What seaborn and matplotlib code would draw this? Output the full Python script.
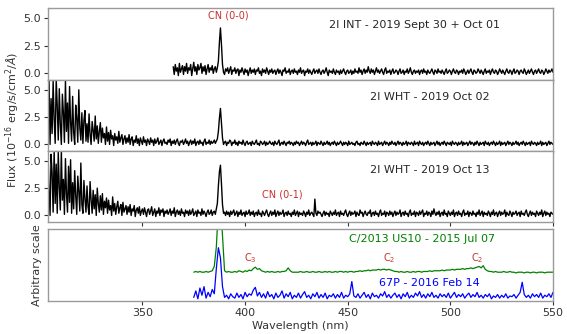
import numpy as np
import pandas as pd
import matplotlib
matplotlib.use("Agg")
import matplotlib.pyplot as plt
import seaborn as sns

# ---- 2I spectra, 0.5 nm bins (flux in 1e-16 erg/s/cm2/A) ----
int_start, int_step = 365.0, 0.5
int_flux = [
    0.6, -0.1, 0.8, 0.2, 0.5, -0.2, 0.9, 0.1, 0.4, 0.7, -0.1, 0.6, 0.2, 0.9, 0.0, 0.5, 0.3, 0.8, -0.2, 0.4,
    1.0, 0.2, 0.6, -0.1, 0.8, 0.3, 0.5, 0.9, 0.0, 0.6, 0.2, 0.7, -0.1, 0.4, 0.8, 0.1, 0.5, 0.3, 0.7, 0.0,
    0.4, 0.6, 0.1, 0.5, 1.1, 2.8, 4.1, 2.6, 0.8, 0.1, -0.1, 0.4, 0.2, 0.5, 0.0, 0.3, 0.6, -0.1, 0.3, 0.2,
    0.5, 0.0, 0.3, 0.4, -0.2, 0.3, 0.1, 0.5, 0.2, -0.1, 0.4, 0.1, 0.3, -0.2, 0.2, 0.5, 0.0, 0.3, 0.1, 0.4,
    -0.1, 0.3, 0.2, 0.5, 0.0, 0.2, -0.2, 0.4, 0.1, 0.3, 0.0, 0.5, 0.2, -0.1, 0.3, 0.1, 0.4, 0.0, 0.2, 0.3,
    -0.1, 0.2, 0.4, 0.0, 0.3, 0.1, -0.2, 0.3, 0.2, 0.5, 0.0, 0.2, 0.1, 0.4, -0.1, 0.2, 0.3, 0.0, 0.4, 0.1,
    0.2, -0.1, 0.3, 0.1, 0.5, 0.0, 0.2, 0.3, -0.2, 0.2, 0.1, 0.4, 0.0, 0.3, 0.1, -0.1, 0.2, 0.4, 0.0, 0.2,
    0.3, 0.0, 0.4, 0.1, -0.1, 0.2, 0.3, 0.0, 0.2, 0.5, 0.1, -0.2, 0.3, 0.1, 0.2, 0.0, 0.4, 0.1, -0.1, 0.3,
    0.1, 0.2, -0.1, 0.3, 0.0, 0.2, 0.4, 0.1, -0.1, 0.2, 0.3, 0.0, 0.1, 0.3, -0.1, 0.2, 0.0, 0.4, 0.1, 0.2,
    0.0, 0.5, 0.1, 0.3, -0.1, 0.2, 0.4, 0.0, 0.3, 0.1, 0.6, 0.2, 0.0, 0.4, 0.1, 0.3, -0.1, 0.2, 0.5, 0.1,
    0.3, 0.0, 0.2, 0.4, 0.1, -0.1, 0.3, 0.5, 0.0, 0.2, 0.1, 0.3, -0.1, 0.2, 0.4, 0.0, 0.1, 0.3, 0.2, -0.1,
    0.2, 0.4, 0.0, 0.1, 0.3, -0.1, 0.2, 0.1, 0.4, 0.0, 0.2, 0.5, 0.1, -0.1, 0.2, 0.3, 0.0, 0.2, 0.1, 0.3,
    -0.1, 0.2, 0.3, 0.0, 0.4, 0.1, 0.2, -0.1, 0.3, 0.1, 0.0, 0.2, 0.4, 0.1, -0.1, 0.3, 0.2, 0.0, 0.4, 0.1,
    0.2, 0.0, 0.3, 0.1, -0.1, 0.2, 0.4, 0.0, 0.1, 0.3, 0.2, -0.1, 0.2, 0.4, 0.1, 0.0, 0.3, 0.2, -0.1, 0.2,
    0.1, 0.3, 0.0, 0.4, 0.2, -0.1, 0.1, 0.3, 0.0, 0.2, 0.4, 0.1, -0.1, 0.3, 0.2, 0.0, 0.1, 0.4, 0.2, 0.0,
    0.3, 0.1, -0.1, 0.2, 0.4, 0.0, 0.2, 0.1, 0.3, -0.1, 0.2, 0.4, 0.1, 0.0, 0.3, 0.2, -0.1, 0.1, 0.4, 0.2,
    0.0, 0.3, 0.1, -0.1, 0.2, 0.4, 0.1, 0.0, 0.3, 0.2, -0.1, 0.2, 0.4, 0.0, 0.1, 0.3, 0.2, -0.1, 0.2, 0.3,
    0.1, 0.0, 0.4, 0.2, -0.1, 0.1, 0.3, 0.0, 0.2, 0.4, 0.1, -0.1, 0.2, 0.3, 0.0, 0.2, 0.4, 0.1, 0.0, 0.3,
    0.2, -0.1, 0.1, 0.4, 0.2, 0.0, 0.3, 0.1, 0.2, 0.4, 0.1,
]

wht02_start, wht02_step = 303.0, 0.5
wht02_flux = [
    5.9, 0.3, 3.1, 6.0, 0.0, 4.2, 1.0, 5.8, 2.3, 0.1, 6.0, 3.5, 0.4, 5.1, 1.8, 0.0, 4.6, 2.9, 0.2, 5.9,
    1.2, 3.8, 0.1, 5.3, 2.0, 0.3, 4.4, 1.1, 0.0, 3.6, 2.4, 0.2, 5.0, 1.5, 0.4, 2.9, 0.1, 2.2, 3.1, 0.3,
    1.9, 0.2, 2.8, 0.9, 0.0, 2.1, 1.3, 0.3, 2.6, 0.5, 1.7, 0.1, 1.2, 2.0, 0.2, 1.5, 0.6, 1.0, 0.0, 1.6,
    0.3, 1.1, 0.0, 1.3, 0.5, 0.8, -0.1, 1.0, 0.4, 0.7, 0.1, 1.2, 0.2, 0.6, 0.9, 0.0, 0.5, 0.8, 0.1, 0.6,
    0.2, 0.9, 0.0, 0.5, 0.7, -0.1, 0.4, 0.2, 0.8, 0.1, 0.5, -0.1, 0.6, 0.3, 0.0, 0.7, 0.2, 0.4, -0.1, 0.5,
    0.3, 0.0, 0.6, 0.2, 0.4, -0.1, 0.5, 0.1, 0.3, 0.6, 0.0, 0.2, 0.4, -0.1, 0.3, 0.5, 0.1, 0.2, 0.0, 0.4,
    0.2, 0.5, -0.1, 0.3, 0.1, 0.4, 0.0, 0.3, 0.5, 0.1, -0.1, 0.3, 0.2, 0.4, 0.0, 0.2, 0.5, 0.1, 0.3, -0.1,
    0.2, 0.4, 0.0, 0.3, 0.1, 0.5, -0.1, 0.2, 0.3, 0.0, 0.4, 0.1, 0.2, -0.1, 0.3, 0.5, 0.0, 0.2, 0.1, 0.4,
    0.0, 0.3, 0.1, 0.2, 0.4, 0.1, 0.3, 0.5, 1.2, 2.4, 3.3, 2.0, 0.6, 0.0, 0.2, 0.3, -0.1, 0.2, 0.1, 0.4,
    0.3, -0.1, 0.2, 0.1, 0.4, 0.0, 0.2, -0.1, 0.3, 0.1, 0.2, 0.0, 0.4, 0.1, -0.1, 0.2, 0.3, 0.0, 0.1, 0.2,
    -0.1, 0.3, 0.1, 0.0, 0.2, 0.4, 0.0, 0.1, -0.1, 0.3, 0.2, 0.0, 0.1, 0.3, -0.1, 0.2, 0.0, 0.1, 0.3, 0.1,
    0.0, 0.2, -0.1, 0.3, 0.1, 0.0, 0.2, 0.4, -0.1, 0.1, 0.2, 0.0, 0.3, 0.1, -0.1, 0.2, 0.1, 0.3, 0.0, 0.2,
    0.1, -0.1, 0.2, 0.0, 0.3, 0.1, 0.2, -0.1, 0.1, 0.3, 0.0, 0.2, 0.1, -0.1, 0.2, 0.4, 0.0, 0.1, 0.2, -0.1,
    0.2, 0.0, 0.1, 0.3, -0.1, 0.2, 0.1, 0.0, 0.3, 0.1, -0.1, 0.2, 0.0, 0.1, 0.3, 0.0, 0.2, -0.1, 0.1, 0.2,
    0.0, 0.3, 0.1, -0.1, 0.2, 0.0, 0.1, 0.3, 0.1, -0.1, 0.2, 0.0, 0.2, 0.1, -0.1, 0.3, 0.0, 0.1, 0.2, 0.0,
    0.1, -0.1, 0.2, 0.3, 0.0, 0.1, -0.1, 0.2, 0.1, 0.0, 0.3, 0.1, -0.1, 0.2, 0.0, 0.1, 0.2, -0.1, 0.3, 0.1,
    0.0, 0.2, 0.1, -0.1, 0.3, 0.0, 0.1, 0.2, -0.1, 0.1, 0.3, 0.0, 0.2, 0.1, -0.1, 0.2, 0.0, 0.3, 0.1, 0.0,
    0.2, -0.1, 0.1, 0.3, 0.0, 0.2, 0.1, -0.1, 0.2, 0.0, 0.1, 0.3, -0.1, 0.2, 0.1, 0.0, 0.2, 0.1, -0.1, 0.3,
    0.0, 0.1, 0.2, -0.1, 0.3, 0.1, 0.0, 0.2, -0.1, 0.1, 0.2, 0.0, 0.3, 0.1, -0.1, 0.2, 0.0, 0.1, 0.2, -0.1,
    0.1, 0.3, 0.0, 0.2, -0.1, 0.1, 0.2, 0.0, 0.3, 0.1, -0.1, 0.2, 0.1, 0.0, 0.2, -0.1, 0.3, 0.1, 0.0, 0.2,
    0.1, -0.1, 0.2, 0.0, 0.1, 0.3, -0.1, 0.2, 0.0, 0.1, 0.2, -0.1, 0.1, 0.3, 0.0, 0.2, 0.1, -0.1, 0.2, 0.0,
    0.3, 0.1, -0.1, 0.2, 0.0, 0.1, 0.2, -0.1, 0.3, 0.1, 0.0, 0.2, -0.1, 0.1, 0.2, 0.0, 0.3, 0.1, -0.1, 0.2,
    0.0, 0.1, 0.3, -0.1, 0.2, 0.0, 0.1, 0.2, -0.1, 0.1, 0.3, 0.0, 0.2, 0.1, -0.1, 0.2, 0.0, 0.1, 0.3, 0.0,
    0.2, -0.1, 0.1, 0.2, 0.0, 0.3, 0.1, -0.1, 0.2, 0.0, 0.1, 0.2, -0.1, 0.3, 0.1, 0.0, 0.2, 0.1, -0.1, 0.2,
    0.0, 0.1, 0.3, -0.1, 0.2, 0.0, 0.1, 0.2, -0.1, 0.1, 0.3, 0.0, 0.2, 0.1, 0.0,
]

wht13_start, wht13_step = 303.0, 0.5
wht13_flux = [
    6.0, 0.4, 5.9, 2.2, 0.0, 5.6, 3.9, 0.3, 6.0, 1.1, 4.7, 0.2, 5.8, 2.6, 0.5, 6.0, 1.4, 3.3, 0.1, 5.2,
    2.0, 0.3, 4.5, 1.2, 5.1, 0.2, 3.0, 0.6, 4.1, 1.8, 0.1, 3.6, 2.2, 0.4, 4.8, 1.0, 0.2, 3.2, 1.5, 0.3,
    2.7, 0.8, 0.1, 3.1, 1.4, 0.2, 2.3, 0.6, 1.9, 0.0, 2.5, 1.1, 0.3, 1.8, 0.5, 2.0, 0.1, 1.3, 0.7, 1.6,
    0.2, 1.4, 0.5, 0.9, 0.0, 1.7, 0.4, 1.1, 0.1, 0.8, 1.3, 0.2, 0.7, 1.0, 0.0, 1.2, 0.3, 0.6, 0.9, 0.1,
    0.8, 0.3, 1.0, 0.0, 0.6, 0.4, 0.9, -0.1, 0.5, 0.7, 0.2, 0.8, 0.0, 0.4, 0.6, 0.1, 0.7, 0.3, -0.1, 0.5,
    0.6, 0.1, 0.4, 0.8, 0.0, 0.3, 0.6, -0.1, 0.4, 0.2, 0.7, 0.0, 0.5, 0.3, 0.6, -0.1, 0.4, 0.2, 0.5, 0.1,
    0.3, 0.6, 0.0, 0.4, 0.2, 0.7, -0.1, 0.3, 0.5, 0.1, 0.4, 0.0, 0.6, 0.2, 0.3, -0.1, 0.5, 0.2, 0.4, 0.0,
    0.5, 0.1, 0.3, 0.6, 0.0, 0.2, 0.4, -0.1, 0.5, 0.2, 0.3, 0.0, 0.6, 0.1, 0.4, 0.2, -0.1, 0.3, 0.5, 0.1,
    0.2, 0.5, 0.0, 0.3, 0.4, 0.1, 0.6, 1.1, 2.7, 4.0, 4.6, 2.9, 1.0, 0.2, 0.3, 0.0, 0.4, 0.1, 0.3, -0.1,
    0.4, 0.1, 0.3, 0.5, 0.0, 0.2, 0.4, -0.1, 0.3, 0.1, 0.5, 0.0, 0.2, 0.3, -0.1, 0.4, 0.1, 0.2, 0.5, 0.0,
    0.3, 0.1, 0.4, -0.1, 0.2, 0.3, 0.0, 0.5, 0.1, 0.2, -0.1, 0.4, 0.2, 0.0, 0.3, 0.5, 0.1, -0.1, 0.2, 0.4,
    0.0, 0.3, 0.1, 0.5, -0.1, 0.2, 0.4, 0.0, 0.3, 0.1, 0.2, 0.5, -0.1, 0.2, 0.3, 0.0, 0.4, 0.1, 0.2, -0.1,
    0.3, 0.1, 0.5, 0.0, 0.2, 0.4, -0.1, 0.3, 0.1, 0.2, 0.0, 0.4, 0.2, -0.1, 0.3, 0.1, 0.5, 0.0, 0.2, 0.3,
    0.1, -0.1, 1.5, 0.2, 0.0, 0.4, 0.2, 0.3, 0.1, -0.1, 0.2, 0.4, 0.0, 0.3, 0.1, 0.2, -0.1, 0.4, 0.2, 0.0,
    0.3, 0.1, 0.5, 0.0, 0.2, 0.3, -0.1, 0.4, 0.1, 0.2, 0.0, 0.3, 0.5, 0.1, -0.1, 0.2, 0.4, 0.0, 0.3, 0.1,
    0.2, 0.4, -0.1, 0.3, 0.1, 0.0, 0.5, 0.2, 0.3, -0.1, 0.2, 0.4, 0.1, 0.0, 0.3, 0.2, 0.5, -0.1, 0.2, 0.3,
    0.0, 0.4, 0.1, 0.2, -0.1, 0.3, 0.5, 0.0, 0.2, 0.1, 0.4, -0.1, 0.3, 0.2, 0.0, 0.4, 0.1, 0.3, -0.1, 0.2,
    0.4, 0.0, 0.3, 0.1, 0.2, 0.5, -0.1, 0.2, 0.3, 0.0, 0.4, 0.1, 0.2, -0.1, 0.3, 0.5, 0.0, 0.2, 0.1, 0.4,
    -0.1, 0.3, 0.2, 0.0, 0.4, 0.1, 0.3, 0.5, -0.1, 0.2, 0.1, 0.4, 0.0, 0.3, 0.2, -0.1, 0.4, 0.1, 0.6, 0.2,
    0.0, 0.3, 0.1, 0.4, -0.1, 0.2, 0.3, 0.0, 0.5, 0.1, 0.2, -0.1, 0.4, 0.2, 0.0, 0.3, 0.1, 0.5, -0.1, 0.2,
    0.3, 0.0, 0.4, 0.1, 0.2, -0.1, 0.3, 0.5, 0.0, 0.2, 0.1, 0.4, -0.1, 0.3, 0.2, 0.0, 0.4, 0.1, 0.2, -0.1,
    0.3, 0.1, 0.5, 0.0, 0.2, 0.4, -0.1, 0.3, 0.1, 0.2, 0.0, 0.4, 0.2, -0.1, 0.3, 0.1, 0.5, 0.0, 0.2, 0.3,
    -0.1, 0.2, 0.4, 0.0, 0.3, 0.1, 0.2, 0.5, -0.1, 0.3, 0.1, 0.0, 0.4, 0.2, -0.1, 0.3, 0.1, 0.2, 0.4, 0.0,
    0.2, 0.3, -0.1, 0.4, 0.1, 0.2, 0.0, 0.3, 0.5, 0.1, -0.1, 0.2, 0.4, 0.0, 0.3, 0.1, 0.2, -0.1, 0.4, 0.2,
    0.0, 0.3, 0.1, 0.5, -0.1, 0.2, 0.4, 0.0, 0.3, 0.1, 0.2, -0.1, 0.3, 0.2, 0.1,
]

# ---- comparison comets, 1 nm bins (arbitrary units) ----
us10_start, us10_step = 375.0, 1.0
us10_flux = [
    0.40, 0.41, 0.40, 0.41, 0.40, 0.40, 0.41, 0.40, 0.41, 0.42,
    0.48, 0.75, 1.30, 1.40, 0.90, 0.42, 0.40, 0.41, 0.40, 0.40,
    0.41, 0.40, 0.42, 0.41, 0.40, 0.42, 0.41, 0.43, 0.42, 0.45,
    0.47, 0.44, 0.45, 0.42, 0.41, 0.40, 0.41, 0.40, 0.41, 0.40,
    0.40, 0.41, 0.40, 0.41, 0.41, 0.42, 0.46, 0.42, 0.40, 0.40,
    0.40, 0.40, 0.41, 0.40, 0.40, 0.41, 0.40, 0.40, 0.41, 0.40,
    0.40, 0.41, 0.40, 0.40, 0.41, 0.40, 0.41, 0.40, 0.40, 0.41,
    0.40, 0.41, 0.41, 0.40, 0.41, 0.40, 0.41, 0.41, 0.40, 0.41,
    0.41, 0.42, 0.41, 0.42, 0.42, 0.43, 0.42, 0.43, 0.43, 0.43,
    0.44, 0.43, 0.44, 0.44, 0.43, 0.44, 0.43, 0.42, 0.41, 0.41,
    0.40, 0.41, 0.40, 0.40, 0.41, 0.40, 0.40, 0.41, 0.40, 0.41,
    0.41, 0.40, 0.41, 0.41, 0.41, 0.42, 0.41, 0.42, 0.42, 0.42,
    0.42, 0.43, 0.42, 0.43, 0.43, 0.43, 0.44, 0.43, 0.44, 0.44,
    0.44, 0.45, 0.44, 0.45, 0.45, 0.46, 0.45, 0.46, 0.47, 0.48,
    0.46, 0.49, 0.44, 0.42, 0.41, 0.41, 0.40, 0.41, 0.40, 0.40,
    0.40, 0.41, 0.40, 0.40, 0.41, 0.40, 0.40, 0.39, 0.40, 0.40,
    0.40, 0.39, 0.40, 0.40, 0.39, 0.40, 0.40, 0.39, 0.40, 0.40,
    0.40, 0.39, 0.40, 0.40, 0.40, 0.40,
]

p67_start, p67_step = 375.0, 1.0
p67_flux = [
    0.05, 0.14, 0.03, 0.18, 0.08, 0.20, 0.04, 0.12, 0.06, 0.16,
    0.10, 0.45, 0.74, 0.60, 0.20, 0.05, 0.08, 0.03, 0.10, 0.06,
    0.04, 0.11, 0.05, 0.09, 0.03, 0.12, 0.06, 0.10, 0.08, 0.15,
    0.19, 0.07, 0.12, 0.05, 0.10, 0.04, 0.13, 0.06, 0.09, 0.03,
    0.11, 0.05, 0.08, 0.14, 0.04, 0.10, 0.06, 0.12, 0.03, 0.08,
    0.05, 0.11, 0.04, 0.09, 0.13, 0.05, 0.08, 0.03, 0.10, 0.06,
    0.12, 0.04, 0.09, 0.05, 0.11, 0.03, 0.08, 0.06, 0.10, 0.04,
    0.09, 0.05, 0.12, 0.04, 0.08, 0.06, 0.10, 0.27, 0.07, 0.05,
    0.10, 0.04, 0.08, 0.12, 0.05, 0.09, 0.03, 0.11, 0.06, 0.08,
    0.04, 0.10, 0.07, 0.13, 0.05, 0.09, 0.04, 0.08, 0.11, 0.05,
    0.09, 0.03, 0.10, 0.06, 0.12, 0.04, 0.08, 0.05, 0.11, 0.07,
    0.13, 0.05, 0.09, 0.04, 0.10, 0.06, 0.12, 0.05, 0.08, 0.04,
    0.10, 0.06, 0.09, 0.05, 0.11, 0.04, 0.08, 0.12, 0.05, 0.09,
    0.06, 0.10, 0.04, 0.08, 0.11, 0.05, 0.09, 0.06, 0.12, 0.05,
    0.08, 0.04, 0.09, 0.06, 0.10, 0.03, 0.07, 0.05, 0.09, 0.04,
    0.08, 0.05, 0.10, 0.04, 0.07, 0.06, 0.09, 0.04, 0.08, 0.12,
    0.26, 0.09, 0.05, 0.08, 0.04, 0.10, 0.06, 0.09, 0.05, 0.11,
    0.04, 0.08, 0.06, 0.10, 0.05, 0.12,
]

panel_titles = ["2I INT - 2019 Sept 30 + Oct 01",
                "2I WHT - 2019 Oct 02",
                "2I WHT - 2019 Oct 13"]
flux_ticks = [0.0, 2.5, 5.0]
wave_ticks = [350, 400, 450, 500, 550]


def frame(start, step, values):
    return pd.DataFrame({"wave": start + step * np.arange(len(values)),
                         "flux": values})


sns.set_style("ticks")
plt.rcParams["font.family"] = ["DejaVu Sans"]
plt.rcParams["mathtext.fontset"] = "dejavusans"

W, H = 567, 334
fig = plt.figure(figsize=(W / 100, H / 100), dpi=100)


def px_axes(top, bottom, left=48, right=553):
    return fig.add_axes([left / W, 1 - bottom / H, (right - left) / W,
                         (bottom - top) / H])


spine_col = "#9a9a9a"
tick_col = "#333333"
red = "#c8302c"
xlim = (304, 550)

ax1 = px_axes(8, 80)
ax2 = px_axes(80, 151)
ax3 = px_axes(151, 222)
ax4 = px_axes(229, 301)

for ax, (start, step, vals) in zip(
        [ax1, ax2, ax3],
        [(int_start, int_step, int_flux),
         (wht02_start, wht02_step, wht02_flux),
         (wht13_start, wht13_step, wht13_flux)]):
    sns.lineplot(data=frame(start, step, vals), x="wave", y="flux", ax=ax,
                 color="black", lw=1.0, estimator=None, sort=False)
    ax.set_ylim(-0.6, 5.9)
    ax.set_yticks(flux_ticks)
    ax.set_xticks(wave_ticks)
    ax.tick_params(labelbottom=False)

sns.lineplot(data=frame(us10_start, us10_step, us10_flux), x="wave", y="flux",
             ax=ax4, color="green", lw=0.9, estimator=None, sort=False)
sns.lineplot(data=frame(p67_start, p67_step, p67_flux), x="wave", y="flux",
             ax=ax4, color="blue", lw=0.9, estimator=None, sort=False)
ax4.set_ylim(0, 1)
ax4.set_yticks([])
ax4.set_xticks(wave_ticks)

for ax in [ax1, ax2, ax3, ax4]:
    ax.set_xlim(*xlim)
    ax.set_xlabel("")
    ax.set_ylabel("")
    for sp in ax.spines.values():
        sp.set_color(spine_col)
        sp.set_linewidth(1.0)
    ax.tick_params(axis="both", direction="out", length=3, width=0.8,
                   color=tick_col, labelsize=8, labelcolor=tick_col, pad=2)

# panel annotations
fs = 8
ax1.text(524, 4.35, panel_titles[0], ha="right", va="center", fontsize=fs)
ax2.text(519, 4.35, panel_titles[1], ha="right", va="center", fontsize=fs)
ax3.text(519, 4.2, panel_titles[2], ha="right", va="center", fontsize=fs)
ax1.text(392, 5.25, "CN (0-0)", ha="center", va="center", fontsize=7, color=red)
ax3.text(418, 1.9, "CN (0-1)", ha="center", va="center", fontsize=7, color=red)

ax4.text(486, 0.86, "C/2013 US10 - 2015 Jul 07", ha="center", va="center",
         fontsize=fs, color="green")
ax4.text(490, 0.25, "67P - 2016 Feb 14", ha="center", va="center",
         fontsize=fs, color="blue")
for wx, lab in [(402.5, "C$_3$"), (470, "C$_2$"), (513, "C$_2$")]:
    ax4.text(wx, 0.59, lab, ha="center", va="center", fontsize=7, color=red)

ax4.set_xlabel("Wavelength (nm)", fontsize=8, color=tick_col, labelpad=2)
ax4.set_ylabel("Arbitrary scale", fontsize=8, color=tick_col, labelpad=4)
fig.text(13 / W, 1 - 120 / H, r"Flux (10$^{-16}$ erg/s/cm$^2$/$\AA$)",
         rotation=90, ha="center", va="center", fontsize=8, color=tick_col)

fig.savefig("out.png", dpi=100, facecolor="white")
